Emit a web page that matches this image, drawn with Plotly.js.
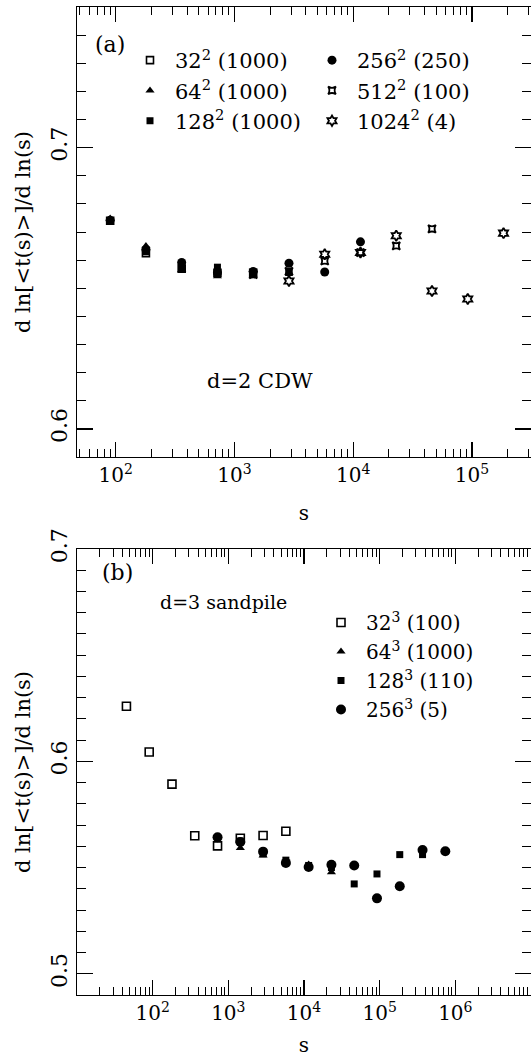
<!DOCTYPE html>
<html>
<head>
<meta charset="utf-8">
<script src="https://cdn.plot.ly/plotly-3.0.1.min.js"></script>
<style>
  html, body { margin: 0; padding: 0; background: #fff; overflow: hidden; }
  #chart { width: 531px; height: 1057px; }
</style>
</head>
<body>
<div id="chart"></div>
<script>
// ---------- Panel (a): d=2 CDW ----------
const a32x   = [90, 180, 360, 720, 1440];
const a32y   = [0.6740, 0.6625, 0.6570, 0.6555, 0.6555];
const a64x   = [90, 180, 360, 720, 1440];
const a64y   = [0.6748, 0.6650, 0.6565, 0.6543, 0.6545];
const a128x  = [90, 180, 360, 720, 1440, 2880];
const a128y  = [0.6740, 0.6630, 0.6570, 0.6575, 0.6555, 0.6556];
const a256x  = [90, 180, 360, 720, 1440, 2880, 5760, 11520];
const a256y  = [0.6742, 0.6638, 0.6592, 0.6555, 0.6560, 0.6589, 0.6558, 0.6665];
const a512x  = [1440, 2880, 5760, 11520, 23040, 46080];
const a512y  = [0.6548, 0.6560, 0.6597, 0.6627, 0.6651, 0.6711];
const a1024x = [2880, 5760, 11520, 23040, 46080, 92160, 184320];
const a1024y = [0.6526, 0.6621, 0.6627, 0.6687, 0.6490, 0.6462, 0.6696];
const aNames = ["32<sup>2</sup> (1000)", "64<sup>2</sup> (1000)", "128<sup>2</sup> (1000)",
                "256<sup>2</sup> (250)", "512<sup>2</sup> (100)", "1024<sup>2</sup> (4)"];

// ---------- Panel (b): d=3 sandpile ----------
const b32x  = [45, 90, 180, 360, 720, 1440, 2880, 5760];
const b32y  = [0.6260, 0.6044, 0.5893, 0.5650, 0.5602, 0.5638, 0.5651, 0.5671];
const b64x  = [1440, 2880, 5760, 11520, 23040];
const b64y  = [0.5592, 0.5557, 0.5525, 0.5515, 0.5478];
const b128x = [1440, 2880, 5760, 11520, 23040, 46080, 92160, 184320, 368640];
const b128y = [0.5625, 0.5565, 0.5535, 0.5510, 0.5500, 0.5423, 0.5470, 0.5561, 0.5561];
const b256x = [720, 1440, 2880, 5760, 11520, 23040, 46080, 92160, 184320, 368640, 737280];
const b256y = [0.5643, 0.5620, 0.5575, 0.5522, 0.5503, 0.5513, 0.5510, 0.5355, 0.5412, 0.5583, 0.5577];
const bNames = ["32<sup>3</sup> (100)", "64<sup>3</sup> (1000)", "128<sup>3</sup> (110)", "256<sup>3</sup> (5)"];

const aTickVals = [100, 1000, 10000, 100000];
const aTickText = ["10<sup>2</sup>", "10<sup>3</sup>", "10<sup>4</sup>", "10<sup>5</sup>"];
const bTickVals = [100, 1000, 10000, 100000, 1000000];
const bTickText = ["10<sup>2</sup>", "10<sup>3</sup>", "10<sup>4</sup>", "10<sup>5</sup>", "10<sup>6</sup>"];

const FONT = "DejaVu Serif";
const BLACK = "#000";

function logMinor(d0, d1) {
  const v = [];
  for (let d = d0; d <= d1; d++) for (let k = 2; k <= 9; k++) v.push(k * Math.pow(10, d));
  return v;
}
function linMinor(lo, hi, step) {
  const v = [];
  for (let i = Math.round(lo / step); i * step <= hi + 1e-9; i++) v.push(+(i * step).toFixed(4));
  return v;
}

function tr(x, y, name, sym, size, xa, ya, leg, lw) {
  const open = sym.indexOf("open") >= 0;
  return {
    x: x, y: y, name: name, type: "scatter", mode: "markers",
    xaxis: xa, yaxis: ya, legend: leg,
    marker: { symbol: sym, size: size, color: BLACK,
              line: { color: BLACK, width: open ? (lw || 1.6) : 0 } }
  };
}

const data = [
  // legend row order for 2-column horizontal legend: 32,256,64,512,128,1024
  tr(a32x,   a32y,   aNames[0], "square-open",      7, "x",  "y",  "legend"),
  tr(a256x,  a256y,  aNames[3], "circle",           9, "x",  "y",  "legend"),
  tr(a64x,   a64y,   aNames[1], "triangle-up",      8, "x",  "y",  "legend"),
  tr(a512x,  a512y,  aNames[4], "star-square-open", 7, "x",  "y",  "legend", 1.8),
  tr(a128x,  a128y,  aNames[2], "square",           7, "x",  "y",  "legend"),
  tr(a1024x, a1024y, aNames[5], "hexagram-open",    8, "x",  "y",  "legend", 1.8),

  tr(b32x,  b32y,  bNames[0], "square-open", 8,  "x2", "y2", "legend2"),
  tr(b64x,  b64y,  bNames[1], "triangle-up", 8,  "x2", "y2", "legend2"),
  tr(b128x, b128y, bNames[2], "square",      7,  "x2", "y2", "legend2"),
  tr(b256x, b256y, bNames[3], "circle",      10, "x2", "y2", "legend2")
];

function xAxis(range, tv, tt, minorV, anchor, dom) {
  return {
    type: "log", range: range, domain: dom, anchor: anchor,
    showline: true, linecolor: BLACK, linewidth: 1.2, mirror: "ticks",
    ticks: "inside", ticklen: 15, tickwidth: 1.2, tickcolor: BLACK,
    tickmode: "array", tickvals: tv, ticktext: tt,
    tickfont: { family: FONT, size: 20, color: BLACK },
    minor: { tickmode: "array", tickvals: minorV, ticks: "inside", ticklen: 8,
             tickwidth: 1, tickcolor: BLACK, showgrid: false },
    showgrid: false, zeroline: false,
    title: { text: "s", font: { family: FONT, size: 20, color: BLACK }, standoff: 19 }
  };
}
function yAxis(range, tv, minorV, anchor, dom) {
  return {
    range: range, domain: dom, anchor: anchor,
    showline: true, linecolor: BLACK, linewidth: 1.2, mirror: "ticks",
    ticks: "inside", ticklen: 16, tickwidth: 1.2, tickcolor: BLACK,
    tickmode: "array", tickvals: tv, ticktext: tv.map(v => v.toFixed(1)),
    tickangle: -90,
    tickfont: { family: FONT, size: 22, color: BLACK },
    minor: { tickmode: "array", tickvals: minorV, ticks: "inside", ticklen: 9,
             tickwidth: 1, tickcolor: BLACK, showgrid: false },
    showgrid: false, zeroline: false,
    title: { text: "d ln[&lt;t(s)&gt;]/d ln(s)", font: { family: FONT, size: 21, color: BLACK }, standoff: 10 }
  };
}

const layout = {
  width: 531, height: 1057,
  margin: { l: 77, r: 0, t: 7, b: 62 },
  paper_bgcolor: "#fff", plot_bgcolor: "#fff",
  font: { family: FONT, color: BLACK },
  showlegend: true,
  xaxis:  xAxis([1.675, 5.497], aTickVals, aTickText, logMinor(1, 5), "y",  [0, 1]),
  yaxis:  yAxis([0.59, 0.75], [0.6, 0.7], linMinor(0.59, 0.75, 0.01), "x", [0.5445, 1]),
  xaxis2: xAxis([1, 7], bTickVals, bTickText, logMinor(1, 6), "y2", [0, 1]),
  yaxis2: yAxis([0.49, 0.70], [0.5, 0.6, 0.7], linMinor(0.49, 0.70, 0.01), "x2", [0, 0.4514]),
  legend: {
    orientation: "h", x: (125 - 77) / 454, y: (995 - 40) / 988, xanchor: "left", yanchor: "top",
    entrywidth: 127, entrywidthmode: "pixels", itemwidth: 40, traceorder: "normal",
    font: { family: FONT, size: 21, color: BLACK }, bgcolor: "rgba(0,0,0,0)",
    borderwidth: 0
  },
  legend2: {
    orientation: "v", x: (316 - 77) / 454, y: (995 - 603) / 988, xanchor: "left", yanchor: "top",
    itemwidth: 40,
    font: { family: FONT, size: 20, color: BLACK }, bgcolor: "rgba(0,0,0,0)",
    borderwidth: 0, tracegroupgap: 0
  },
  annotations: [
    { text: "(a)", xref: "paper", yref: "paper", x: (110 - 77) / 454, y: (995 - 44) / 988,
      xanchor: "center", yanchor: "middle",
      showarrow: false, font: { family: FONT, size: 22, color: BLACK } },
    { text: "d=2 CDW", xref: "paper", yref: "paper", x: (260 - 77) / 454, y: (995 - 381) / 988,
      xanchor: "center", yanchor: "middle",
      showarrow: false, font: { family: FONT, size: 21, color: BLACK } },
    { text: "(b)", xref: "paper", yref: "paper", x: (117 - 77) / 454, y: (995 - 572) / 988,
      xanchor: "center", yanchor: "middle",
      showarrow: false, font: { family: FONT, size: 22, color: BLACK } },
    { text: "d=3 sandpile", xref: "paper", yref: "paper", x: (223 - 77) / 454, y: (995 - 602) / 988,
      xanchor: "center", yanchor: "middle",
      showarrow: false, font: { family: FONT, size: 19, color: BLACK } }
  ]
};

Plotly.newPlot("chart", data, layout, { staticPlot: true, displayModeBar: false });
</script>
</body>
</html>
